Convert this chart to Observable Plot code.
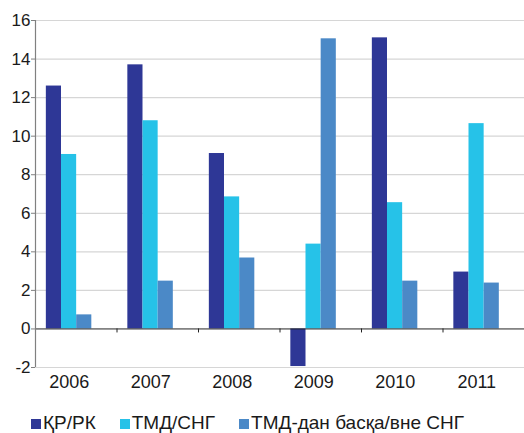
<!DOCTYPE html>
<html><head><meta charset="utf-8">
<script src="https://cdn.jsdelivr.net/npm/d3@7"></script>
<script src="https://cdn.jsdelivr.net/npm/@observablehq/plot@0.6"></script>
<style>
body{margin:0;background:#fff;font-family:"Liberation Sans",Arial,sans-serif;}
#wrap{position:relative;width:524px;height:433px;}
#legend{position:absolute;left:31px;top:413px;display:flex;line-height:19px;font-size:19px;color:#1a1a1a;white-space:nowrap;}
.item{margin-right:24px;}
.sw{display:inline-block;width:10px;height:10px;margin-right:2px;}
</style></head><body>
<div id="wrap"><div id="chart"></div><div id="legend"></div></div>
<script>
const years = ["2006","2007","2008","2009","2010","2011"];
const seriesNames = ["ҚР/РК","ТМД/СНГ","ТМД-дан басқа/вне СНГ"];
const krValues = [12.6, 13.7, 9.1, -1.95, 15.1, 2.95];
const cisValues = [9.05, 10.8, 6.85, 4.4, 6.55, 10.65];
const otherValues = [0.73, 2.48, 3.68, 15.05, 2.48, 2.38];
const colors = ["#2E3796", "#26C2E8", "#4B89C7"];
const yTicks = [-2, 0, 2, 4, 6, 8, 10, 12, 14, 16];

const W = 524, H = 400, mL = 35, mR = 0, mT = 20, mB = 33;
const bw = (W - mL - mR) / years.length;
const groupStart = 0.133, barFrac = 0.186;
const seriesValues = [krValues, cisValues, otherValues];

const marks = [];
marks.push(Plot.ruleY(yTicks.filter(d => d !== 0), {stroke: "#d6d6d6", strokeWidth: 1.2}));
seriesValues.forEach((vals, i) => {
  const data = years.map((y, j) => ({year: y, value: vals[j], series: seriesNames[i]}));
  const left = bw * (groupStart + barFrac * i);
  const right = bw - bw * (groupStart + barFrac * (i + 1));
  marks.push(Plot.barY(data, {x: "year", y: "value", fill: colors[i], insetLeft: left, insetRight: right}));
});
marks.push(Plot.ruleY([0], {stroke: "#222", strokeWidth: 1}));
marks.push(Plot.ruleX(years, {x: d => d, y1: 0, y2: 0, insetBottom: -4, dx: -bw / 2, stroke: "#222"}));
marks.push(Plot.ruleX([years[0]], {x: d => d, y1: -2, y2: 16, dx: -bw / 2, stroke: "#808080", strokeWidth: 1.2}));
marks.push(Plot.axisY(yTicks, {tickSize: 4, tickPadding: 1, stroke: "#808080", fill: "#1a1a1a", fontSize: 17, tickFormat: d => String(d), label: null}));
marks.push(Plot.axisX(years, {tickSize: 0, tickPadding: 8, dx: -7, fill: "#1a1a1a", fontSize: 18, label: null}));

const chart = Plot.plot({
  width: W, height: H,
  marginLeft: mL, marginRight: mR, marginTop: mT, marginBottom: mB,
  x: {domain: years, padding: 0, round: false},
  y: {domain: [-2, 16]},
  style: {fontFamily: "'Liberation Sans', Arial, sans-serif", background: "#fff", color: "#1a1a1a"},
  marks
});
document.getElementById("chart").appendChild(chart);

const legend = document.getElementById("legend");
seriesNames.forEach((name, i) => {
  const item = document.createElement("span");
  item.className = "item";
  const sw = document.createElement("span");
  sw.className = "sw";
  sw.style.background = colors[i];
  item.appendChild(sw);
  item.appendChild(document.createTextNode(name));
  legend.appendChild(item);
});
</script>
</body></html>
